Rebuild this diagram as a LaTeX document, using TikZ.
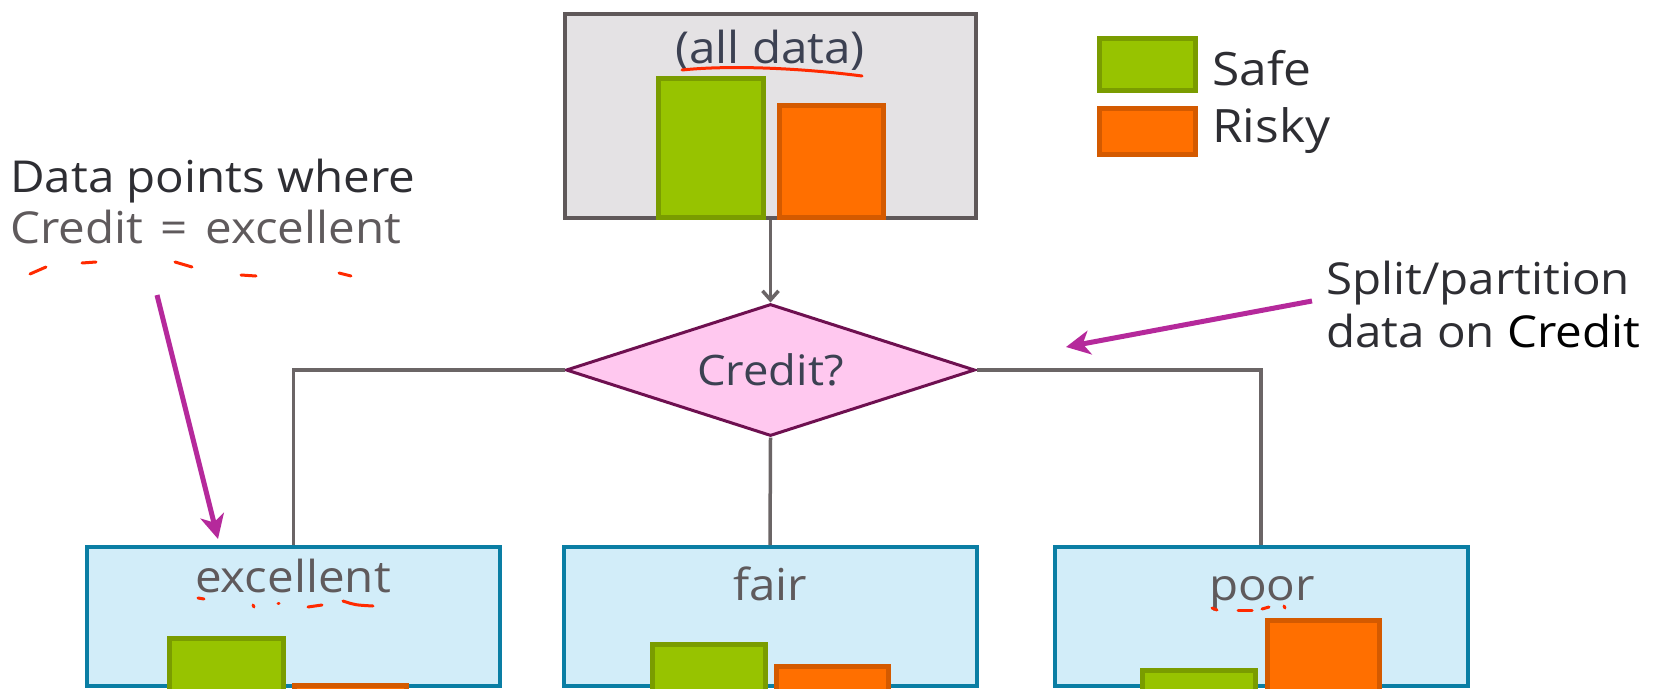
\documentclass[tikz,border=0pt]{standalone}
\usepackage{fontspec}
\setmainfont{Open Sans}[FakeStretch=1.08]
\usetikzlibrary{shapes.geometric,arrows.meta}
\definecolor{boxgray}{HTML}{E4E2E4}
\definecolor{boxgrayd}{HTML}{5F5859}
\definecolor{safeG}{HTML}{97C300}
\definecolor{safeGd}{HTML}{7A9C00}
\definecolor{riskO}{HTML}{FF6F00}
\definecolor{riskOd}{HTML}{D45A00}
\definecolor{pinkf}{HTML}{FFC8EF}
\definecolor{pinkd}{HTML}{6E1050}
\definecolor{leaff}{HTML}{D2EDF9}
\definecolor{leafd}{HTML}{0A7EA4}
\definecolor{conn}{HTML}{6B6566}
\definecolor{notec}{HTML}{B5299B}
\definecolor{inkred}{HTML}{FF2A00}
\definecolor{txtdark}{HTML}{2E2E33}
\definecolor{txtgray}{HTML}{5F5A5C}
\definecolor{txtslate}{HTML}{3C4152}
\newcommand\dfont{\fontsize{44pt}{50pt}\selectfont}
\newcommand\barrect[5]{\filldraw[#1] (#2+2.5,#3+2.5) rectangle (#4-2.5,#5-2.5);}
\begin{document}
\begin{tikzpicture}[x=1pt,y=-1pt,
  lbl/.style={font=\dfont, text=txtgray, inner sep=0pt},
  darklbl/.style={lbl, text=txtdark},
  databox/.style={draw=boxgrayd, fill=boxgray, line width=4pt, inner sep=0pt,
    minimum width=411pt, minimum height=204pt},
  leaf/.style={draw=leafd, fill=leaff, line width=4pt, inner sep=0pt,
    minimum width=413pt, minimum height=139pt},
  decision/.style={diamond, draw=pinkd, fill=pinkf, line width=3pt, inner sep=0pt,
    aspect=3.1, minimum width=409pt, minimum height=132pt,
    font=\fontsize{42pt}{50pt}\selectfont, text=txtslate},
  greenbar/.style={fill=safeG, draw=safeGd, line width=5pt},
  orangebar/.style={fill=riskO, draw=riskOd, line width=5pt},
  conline/.style={draw=conn, line width=3.5pt},
  note/.style={draw=notec, line width=5pt, -{Stealth[length=24pt,width=24pt,inset=7pt]}},
  redmark/.style={draw=inkred, line width=3pt, line cap=round}
]
\useasboundingbox (0,0) rectangle (1667,688);

% top box
\node[databox] (all) at (770.5,116) {};
\node[lbl, text=txtslate, anchor=base] (alltxt) at (770,63) {(all data)};
\barrect{greenbar}{656}{76}{766}{220}
\barrect{orangebar}{777}{103}{886}{220}

% legend
\barrect{greenbar}{1097}{36}{1198}{93}
\barrect{orangebar}{1097}{106}{1198}{157}
\node[darklbl, anchor=base west, font=\fontsize{46pt}{50pt}\selectfont] (safe) at (1212,85) {Safe};
\node[darklbl, anchor=base west, font=\fontsize{46pt}{50pt}\selectfont] (risky) at (1212,142) {Risky};

% decision
\node[decision] (credit) at (770.5,370) {Credit?};

% leaves
\node[leaf] (exc) at (293.5,616.5) {};
\node[leaf] (fair) at (770,616.5) {};
\node[leaf] (poor) at (1261,616.5) {};
\node[lbl, anchor=base] (exctxt) at (293,592) {excellent};
\node[lbl, anchor=base] (fairtxt) at (770,600) {fair};
\node[lbl, anchor=base] (poortxt) at (1262,600) {poor};

% leaf bars
\barrect{greenbar}{167}{636}{286}{694}
\barrect{orangebar}{292}{683}{409}{694}
\barrect{greenbar}{650}{642}{768}{694}
\barrect{orangebar}{774}{664}{891}{694}
\barrect{greenbar}{1140}{668}{1258}{694}
\barrect{orangebar}{1265}{618}{1382}{694}

% connectors
\draw[conline, -{Straight Barb[length=9pt,width=16pt]}] (all.south) -- (credit.north);
\draw[conline] (credit.west) -| (exc.north);
\draw[conline] (credit.east) -| (poor.north);
\draw[conline] (credit.south) -- (fair.north);

% annotations
\node[darklbl, anchor=base west] (dp1) at (10,192) {Data points where};
\node[lbl, anchor=base west] (dp2) at (10,243) {Credit\hspace{0.12em} = \hspace{0.12em}excellent};
\node[darklbl, anchor=base west] (sp1) at (1326,294) {Split/partition};
\node[darklbl, anchor=base west] (sp2) at (1326,347) {data on \textcolor{black}{Credit}};

\coordinate (n1tail) at (157,295);
\coordinate (n1tip) at (218,539);
\draw[note] (n1tail) -- (n1tip);
\coordinate (n2tail) at (1312,301);
\coordinate (n2tip) at (1066,347);
\draw[note] (n2tail) -- (n2tip);

% red ink marks
\draw[redmark] (682,70) .. controls (730,65) and (800,68) .. (862,76);
\draw[redmark] (30,274) -- (46,267);
\draw[redmark] (82,263) -- (96,262);
\draw[redmark] (175,262) -- (192,267);
\draw[redmark] (241,275) -- (256,276);
\draw[redmark] (339,273) -- (351,276);
\draw[redmark] (198,598) -- (204,599);
\draw[redmark] (253,605) -- (254,607);
\draw[redmark] (278,603) -- (279,603);
\draw[redmark] (308,607) -- (322,605);
\draw[redmark] (343,601) .. controls (355,605) .. (373,606);
\draw[redmark] (1212,608) -- (1217,610);
\draw[redmark] (1238,610) -- (1252,610);
\draw[redmark] (1262,609) -- (1269,607);
\draw[redmark] (1284,606) -- (1285,608);
\end{tikzpicture}
\end{document}
